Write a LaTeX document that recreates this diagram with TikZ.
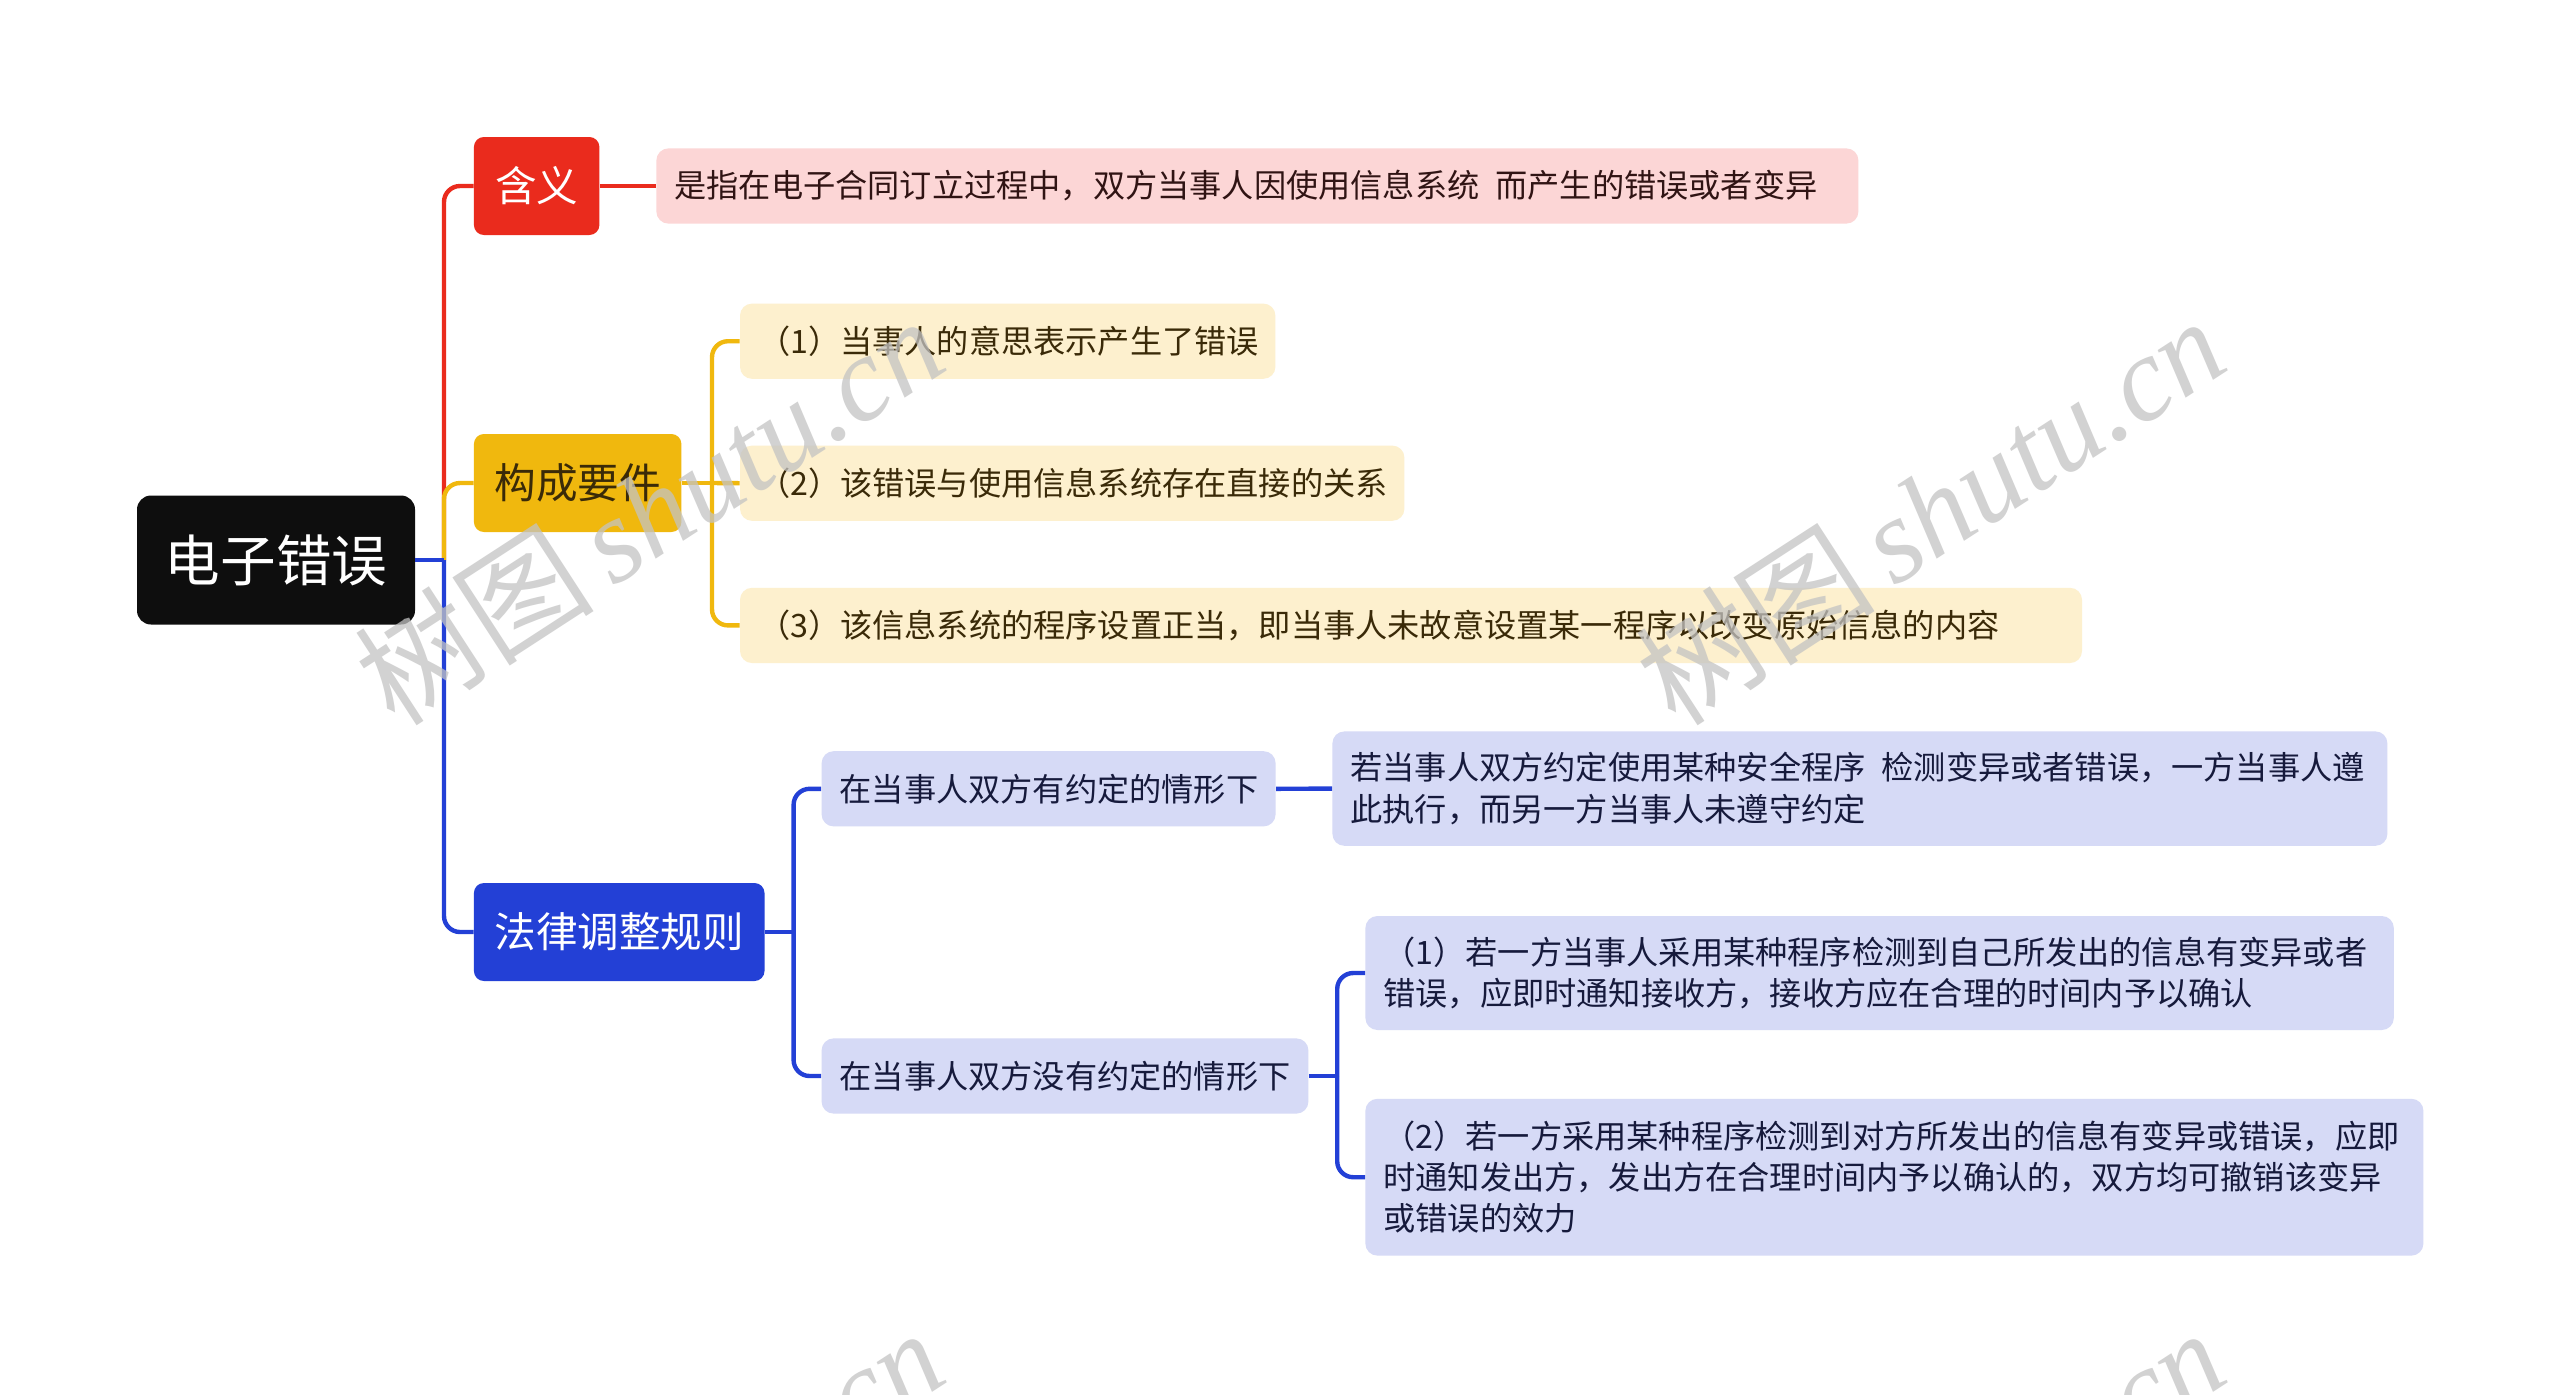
\documentclass[tikz,border=0pt]{standalone}
\usepackage{fontspec}
\setmainfont{Noto Sans CJK SC}
\newfontfamily\wmlatin{Liberation Serif}
\definecolor{rootc}{RGB}{14,14,14}
\definecolor{redc}{RGB}{234,43,29}
\definecolor{pinkc}{RGB}{252,214,214}
\definecolor{pinktext}{RGB}{48,20,20}
\definecolor{yelc}{RGB}{240,184,14}
\definecolor{lyelc}{RGB}{253,240,206}
\definecolor{yeltext}{RGB}{58,42,8}
\definecolor{bluec}{RGB}{35,64,214}
\definecolor{lavc}{RGB}{214,218,246}
\definecolor{lavtext}{RGB}{22,26,60}
\definecolor{wmgray}{RGB}{195,195,195}
\tikzset{
  rootbox/.style={fill=rootc, text=white, rounded corners=7pt, font=\fontsize{27.8}{32}\selectfont, inner sep=0pt, minimum width=139pt, minimum height=64.5pt},
  lone/.style={rounded corners=5pt, font=\fontsize{20.8}{24}\selectfont, inner sep=0pt, minimum height=49pt, anchor=west},
  leaf/.style={rounded corners=6pt, font=\fontsize{16.1}{20.6}\selectfont, inner xsep=9pt, inner ysep=0pt, align=left, anchor=west, minimum height=37.6pt},
  conn/.style={line width=2.2pt, rounded corners=8pt},
  wm/.style={rotate=33, text=wmgray, opacity=0.75, font=\fontsize{60}{60}\selectfont}
}
\begin{document}
\begin{tikzpicture}[x=1pt,y=-1pt]
\useasboundingbox (0,0) rectangle (1280,697);
\fill[white] (0,0) rectangle (1280,697);

% nodes
\node[rootbox] (root) at (138,280) {电子错误};
\node[lone, fill=redc, text=white, minimum width=62.75pt] (hy) at (236.75,93) {含义};
\node[lone, fill=yelc, text=yeltext, minimum width=103.75pt] (gc) at (236.75,241.5) {构成要件};
\node[lone, fill=bluec, text=white, minimum width=145.3pt] (fl) at (236.75,466) {法律调整规则};

\node[leaf, fill=pinkc, text=pinktext, text width=583pt] (def) at (328,93) {是指在电子合同订立过程中，双方当事人因使用信息系统\hspace{0.5em}而产生的错误或者变异};

\node[leaf, fill=lyelc, text=yeltext, text width=249.7pt] (k1) at (369.8,170.6) {（1）当事人的意思表示产生了错误};
\node[leaf, fill=lyelc, text=yeltext, text width=314.2pt] (k2) at (369.8,241.6) {（2）该错误与使用信息系统存在直接的关系};
\node[leaf, fill=lyelc, text=yeltext, text width=653pt] (k3) at (369.8,312.7) {（3）该信息系统的程序设置正当，即当事人未故意设置某一程序以改变原始信息的内容};

\node[leaf, fill=lavc, text=lavtext, text width=209pt] (ya) at (410.6,394.4) {在当事人双方有约定的情形下};
\node[leaf, fill=lavc, text=lavtext, text width=509.5pt, minimum height=57.2pt] (yac) at (666,394.3) {若当事人双方约定使用某种安全程序\hspace{0.5em}检测变异或者错误，一方当事人遵\\此执行，而另一方当事人未遵守约定};

\node[leaf, fill=lavc, text=lavtext, text width=225.4pt] (na) at (410.6,538) {在当事人双方没有约定的情形下};
\node[leaf, fill=lavc, text=lavtext, text width=496.2pt, minimum height=57pt] (nb1) at (682.5,486.5) {（1）若一方当事人采用某种程序检测到自己所发出的信息有变异或者\\错误，应即时通知接收方，接收方应在合理的时间内予以确认};
\node[leaf, fill=lavc, text=lavtext, text width=511pt, minimum height=78.4pt] (nb2) at (682.5,588.6) {（2）若一方采用某种程序检测到对方所发出的信息有变异或错误，应即\\时通知发出方，发出方在合理时间内予以确认的，双方均可撤销该变异\\或错误的效力};

% junctions
\coordinate (j0) at (222,280);
\coordinate (j1) at (356,241.5);
\coordinate (j2) at (396.8,466);
\coordinate (j3) at (668.6,538);

% connectors
\draw[conn, redc] (j0) -- (j0 |- hy.west) -- (hy.west);
\draw[conn, yelc] (j0) -- (j0 |- gc.west) -- (gc.west);
\draw[conn, bluec] (j0) -- (j0 |- fl.west) -- (fl.west);
\draw[conn, bluec] (root.east) -- (j0);

\draw[conn, redc] (hy.east) -- (def.west);

\draw[conn, yelc] (gc.east) -- (j1);
\draw[conn, yelc] (j1) -- (j1 |- k1.west) -- (k1.west);
\draw[conn, yelc] (j1) -- (k2.west);
\draw[conn, yelc] (j1) -- (j1 |- k3.west) -- (k3.west);

\draw[conn, bluec] (fl.east) -- (j2);
\draw[conn, bluec] (j2) -- (j2 |- ya.west) -- (ya.west);
\draw[conn, bluec] (j2) -- (j2 |- na.west) -- (na.west);
\draw[conn, bluec] (ya.east) -- (yac.west);
\draw[conn, bluec] (na.east) -- (j3);
\draw[conn, bluec] (j3) -- (j3 |- nb1.west) -- (nb1.west);
\draw[conn, bluec] (j3) -- (j3 |- nb2.west) -- (nb2.west);

% watermarks
\begin{scope}
\clip (0,0) rectangle (1280,697);
\node[wm] (wm1) at (324.5,255) {树图\,{\wmlatin\itshape shutu.cn}};
\node[wm] (wm2) at (965,255) {树图\,{\wmlatin\itshape shutu.cn}};
\node[wm] (wm3) at (324.5,761) {树图\,{\wmlatin\itshape shutu.cn}};
\node[wm] (wm4) at (965,761) {树图\,{\wmlatin\itshape shutu.cn}};
\end{scope}
\end{tikzpicture}
\end{document}
